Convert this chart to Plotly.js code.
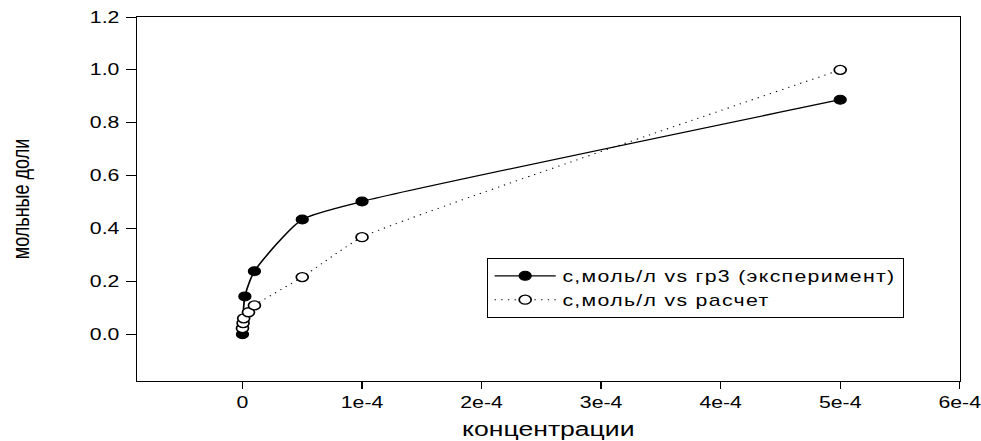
<!DOCTYPE html>
<html>
<head>
<meta charset="utf-8">
<script src="https://cdn.plot.ly/plotly-3.0.1.min.js"></script>
<style>
html,body{margin:0;padding:0;background:#fff;overflow:hidden;width:981px;height:441px}
/* the reference picture is stretched horizontally; reproduce that look */
#chart{width:738px;height:441px;transform:scaleX(1.3293);transform-origin:0 0}
.legendtext{letter-spacing:1px}
</style>
</head>
<body>
<div id="chart"></div>
<script>
// Experimental series (filled markers)
var expX = [0, 2e-6, 1e-5, 5e-5, 1e-4, 5e-4];
var expY = [0.0, 0.143, 0.238, 0.434, 0.502, 0.887];
// Calculated series (open markers)
var calcX = [0, 5e-7, 1e-6, 5e-6, 1e-5, 5e-5, 1e-4, 5e-4];
var calcY = [0.023, 0.042, 0.060, 0.083, 0.109, 0.216, 0.367, 1.0];
// Tick labels
var xTickVals = [0, 1e-4, 2e-4, 3e-4, 4e-4, 5e-4, 6e-4];
var xTickText = ["0", "1e-4", "2e-4", "3e-4", "4e-4", "5e-4", "6e-4"];
var yTickVals = [0.0, 0.2, 0.4, 0.6, 0.8, 1.0, 1.2];
var seriesNames = ["с,моль/л vs гр3 (эксперимент)", "с,моль/л vs расчет"];

var font = "Liberation Sans, Arial, sans-serif";
var traces = [
  {
    x: expX, y: expY, name: seriesNames[0], type: "scatter", mode: "lines+markers",
    line: {color: "black", width: 1.3, shape: "spline", smoothing: 0.6},
    marker: {symbol: "circle", size: 9, color: "black", line: {color: "black", width: 1}}
  },
  {
    x: calcX, y: calcY, name: seriesNames[1], type: "scatter", mode: "lines+markers",
    line: {color: "black", width: 1, dash: "1px,4px", shape: "spline", smoothing: 0.4},
    marker: {symbol: "circle", size: 9, color: "white", line: {color: "black", width: 1.3}}
  }
];
var layout = {
  width: 738, height: 441,
  margin: {l: 103, r: 16, t: 17, b: 60},
  paper_bgcolor: "white", plot_bgcolor: "white",
  font: {family: font, size: 16, color: "black"},
  showlegend: true,
  legend: {
    x: 0.425, y: 0.338, xanchor: "left", yanchor: "top",
    bordercolor: "black", borderwidth: 1, bgcolor: "white",
    font: {family: font, size: 16, color: "black"},
    tracegroupgap: 0, itemwidth: 46
  },
  xaxis: {
    range: [-0.883e-4, 6e-4],
    tickvals: xTickVals, ticktext: xTickText,
    ticks: "outside", ticklen: 7, tickcolor: "black", tickwidth: 1,
    ticklabeloverflow: "allow",
    showline: true, linecolor: "black", linewidth: 1, mirror: true,
    showgrid: false, zeroline: false, automargin: false,
    tickfont: {family: font, size: 16},
    title: {text: "концентрации", font: {family: font, size: 20}, standoff: 11}
  },
  yaxis: {
    range: [-0.177, 1.2],
    tickvals: yTickVals, tickformat: ".1f",
    ticks: "outside", ticklen: 7, tickcolor: "black", tickwidth: 1,
    ticklabelstandoff: 2,
    showline: true, linecolor: "black", linewidth: 1, mirror: true,
    showgrid: false, zeroline: false, automargin: false,
    tickfont: {family: font, size: 16},
    title: {text: "мольные доли", font: {family: font, size: 18}, standoff: 40}
  }
};
Plotly.newPlot("chart", traces, layout, {displayModeBar: false, staticPlot: true});
</script>
</body>
</html>
